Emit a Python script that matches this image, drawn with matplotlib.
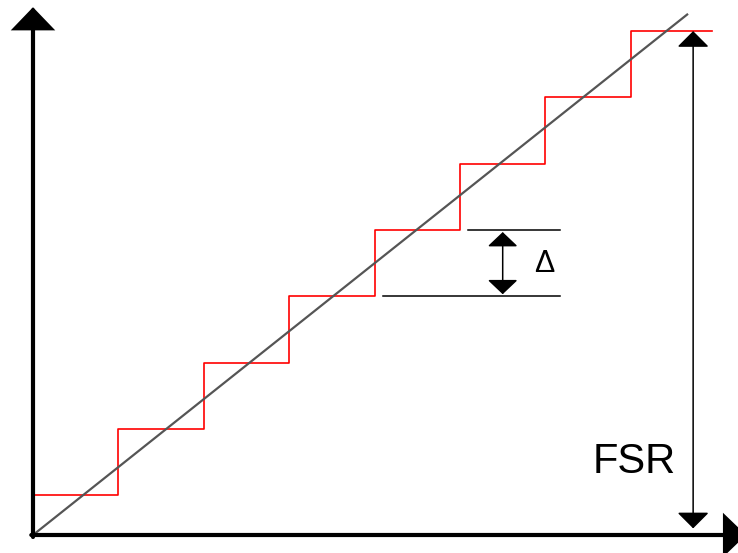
import numpy as np
import matplotlib
matplotlib.use('Agg')
import matplotlib.pyplot as plt

# staircase (quantizer output), in LSB units
stepEdges = [0, 1, 2, 3, 4, 5, 6, 7, 7.95]
stepLevels = [0.6, 1.6, 2.6, 3.6, 4.6, 5.6, 6.6, 7.6, 7.6]

# ideal transfer line
idealX = [0, 7.66]
idealY = [0, 7.85]

# delta annotation
deltaLow = 3.6
deltaHigh = 4.6
deltaLineLowStart = 4.10
deltaLineHighStart = 5.09
deltaLineEnd = 6.17
deltaArrowX = 5.50
labelDelta = '\u0394'

# full scale range arrow
fsrX = 7.73
fsrBottom = 0.10
fsrTop = 7.6
labelFsr = 'FSR'

# axes extents (arrow tips)
xAxisEnd = 8.35
yAxisEnd = 7.96

fig = plt.figure(figsize=(7.38, 5.53), dpi=100)
ax = fig.add_axes([0, 0, 1, 1])
ax.set_xlim(-0.3864, 8.2553)
ax.set_ylim(-0.2715, 8.069)
ax.axis('off')

# staircase and ideal line
ax.plot(stepEdges, stepLevels, drawstyle='steps-post', color='#ff0000', lw=1.2, zorder=2)
ax.plot(idealX, idealY, color='#555555', lw=1.6, zorder=3)

# axes with arrows
axisArrow = dict(arrowstyle='-|>,head_length=1.3,head_width=1.25', mutation_scale=10,
                 lw=3, color='black', shrinkA=0, shrinkB=0, joinstyle='miter')
ax.annotate('', xy=(0, yAxisEnd), xytext=(0, -0.03), arrowprops=axisArrow,
            annotation_clip=False, zorder=4)
ax.annotate('', xy=(xAxisEnd, 0), xytext=(-0.02, 0), arrowprops=axisArrow,
            annotation_clip=False, zorder=4)

# delta annotation
ax.plot([deltaLineHighStart, deltaLineEnd], [deltaHigh, deltaHigh], color='black', lw=1.1)
ax.plot([deltaLineLowStart, deltaLineEnd], [deltaLow, deltaLow], color='black', lw=1.1)
ax.annotate('', xy=(deltaArrowX, deltaHigh), xytext=(deltaArrowX, deltaLow),
            arrowprops=dict(arrowstyle='<|-|>,head_length=0.9,head_width=0.95', mutation_scale=10,
                            lw=1.1, color='black', shrinkA=1.5, shrinkB=1.5))
ax.text(5.985, 4.09, labelDelta, fontsize=22, family='Liberation Sans', ha='center', va='center')

# FSR annotation
ax.annotate('', xy=(fsrX, fsrTop), xytext=(fsrX, fsrBottom),
            arrowprops=dict(arrowstyle='<|-|>,head_length=1.0,head_width=1.0', mutation_scale=10,
                            lw=1.1, color='black', shrinkA=0, shrinkB=0))
ax.text(7.04, 1.10, labelFsr, fontsize=30, family='Liberation Sans', ha='center', va='center')

fig.savefig('out.png', dpi=100)
